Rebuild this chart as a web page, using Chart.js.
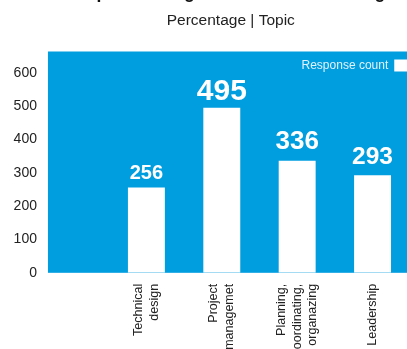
<!DOCTYPE html>
<html>
<head>
<meta charset="utf-8">
<script src="https://cdn.jsdelivr.net/npm/chart.js@4/dist/chart.umd.min.js"></script>
<style>
    html, body { margin: 0; padding: 0; background: #fff; overflow: hidden; }
    #wrap { position: relative; width: 407px; height: 349px; overflow: hidden; }
    #topicChart { position: absolute; left: 0; top: -17.5px; }
</style>
</head>
<body>
<div id="wrap"><canvas id="topicChart" width="459" height="380"></canvas></div>
<script>
var chartTitle = "Top areas to grow in while mentoring";
var chartSubtitle = "Percentage | Topic";
var seriesName = "Response count";
var topics = [
    ["Technical", "design"],
    ["Project", "managemet"],
    ["Planning,", "coordinating,", "organazing"],
    ["Leadership"]
];
var responseCounts = [256, 495, 336, 293];
var yMax = 664;
var yStep = 100;

// styling
var fontFamily = "'Liberation Sans', Arial, sans-serif";
var panelBlue = "#009ddf";
var valueFontSizes = [20, 30, 26, 24.5];
var valueGaps = [8, 8, 11.5, 11.5];
var topicFontSize = 12.5;
var topicLineHeight = 15.6;

Chart.defaults.font.family = fontFamily;

/* blue panel: plot area plus the empty strip left of it */
var panelPlugin = {
    id: "panel",
    beforeDraw: function (chart) {
        var area = chart.chartArea;
        var ctx = chart.ctx;
        var left = chart.scales.gapLeft.left;
        ctx.save();
        ctx.fillStyle = panelBlue;
        ctx.fillRect(left, area.top, chart.width - left, area.bottom - area.top);
        ctx.restore();
    }
};

/* series key in the top right corner of the panel, swatch after the text */
var keyPlugin = {
    id: "seriesKey",
    afterDraw: function (chart) {
        var area = chart.chartArea;
        var ctx = chart.ctx;
        var ds = chart.data.datasets[0];
        var boxW = 14, boxH = 12;
        var boxLeft = area.right - 2 - boxW;
        var boxTop = area.top + 8;
        ctx.save();
        ctx.fillStyle = ds.backgroundColor;
        ctx.fillRect(boxLeft, boxTop, boxW, boxH);
        ctx.fillStyle = "rgba(255,255,255,0.88)";
        ctx.font = "12px " + fontFamily;
        ctx.textAlign = "right";
        ctx.textBaseline = "middle";
        ctx.fillText(ds.label, boxLeft - 6, boxTop + boxH / 2);
        ctx.restore();
    }
};

/* numbers above the bars */
var valuePlugin = {
    id: "values",
    afterDatasetsDraw: function (chart) {
        var ctx = chart.ctx;
        var meta = chart.getDatasetMeta(0);
        ctx.save();
        ctx.fillStyle = "#ffffff";
        ctx.textAlign = "center";
        ctx.textBaseline = "alphabetic";
        for (var i = 0; i < meta.data.length; ++i) {
            var bar = meta.data[i];
            ctx.font = "bold " + valueFontSizes[i] + "px " + fontFamily;
            ctx.fillText(String(responseCounts[i]), bar.x, bar.y - valueGaps[i]);
        }
        ctx.restore();
    }
};

/* vertical topic names, each block centred under its bar */
var topicPlugin = {
    id: "topics",
    afterDraw: function (chart) {
        var ctx = chart.ctx;
        var xScale = chart.scales.x;
        var top = chart.chartArea.bottom + 11;
        ctx.save();
        ctx.fillStyle = "#222222";
        ctx.font = topicFontSize + "px " + fontFamily;
        ctx.textAlign = "right";
        ctx.textBaseline = "middle";
        for (var i = 0; i < topics.length; ++i) {
            var lines = topics[i];
            var center = xScale.getPixelForValue(i);
            for (var j = 0; j < lines.length; ++j) {
                var x = center + (j - (lines.length - 1) / 2) * topicLineHeight;
                ctx.save();
                ctx.translate(x, top);
                ctx.rotate(-Math.PI / 2);
                ctx.fillText(lines[j], 0, 0);
                ctx.restore();
            }
        }
        ctx.restore();
    }
};

// empty axis used only to reserve a strip of fixed width
function spacer(position, width, weight) {
    return {
        position: position,
        weight: weight,
        grid: { display: false, drawTicks: false },
        border: { display: false },
        ticks: { display: false },
        afterFit: function (scale) {
            scale.width = width;
        }
    };
}

var ctx = document.getElementById("topicChart");
var topicChart = new Chart(ctx, {
    type: "bar",
    data: {
        labels: topics,
        datasets: [{
            label: seriesName,
            data: responseCounts,
            backgroundColor: "#ffffff",
            borderWidth: 0,
            barPercentage: 0.49,
            categoryPercentage: 1
        }]
    },
    options: {
        responsive: false,
        animation: false,
        layout: {
            padding: { left: 2.6, right: 0, top: 0, bottom: 90.2 }
        },
        plugins: {
            title: {
                display: true,
                text: chartTitle,
                color: "#111111",
                font: { size: 17.5, weight: "bold" },
                padding: { top: 0, bottom: 4 }
            },
            subtitle: {
                display: true,
                text: chartSubtitle,
                color: "#222222",
                font: { size: 15.5 },
                padding: { top: 3.8, bottom: 21.1 }
            },
            legend: { display: false },
            tooltip: { enabled: false }
        },
        scales: {
            x: {
                display: false
            },
            y: {
                weight: 1,
                min: 0,
                max: yMax,
                grid: { display: false, drawTicks: false },
                border: { display: false },
                ticks: {
                    stepSize: yStep,
                    includeBounds: false,
                    color: "#222222",
                    font: { size: 14 },
                    padding: 11
                }
            },
            gapLeft: spacer("left", 60.75, 0),
            gapRight: spacer("right", 48.75, 0)
        }
    },
    plugins: [panelPlugin, valuePlugin, topicPlugin, keyPlugin]
});
</script>
</body>
</html>
